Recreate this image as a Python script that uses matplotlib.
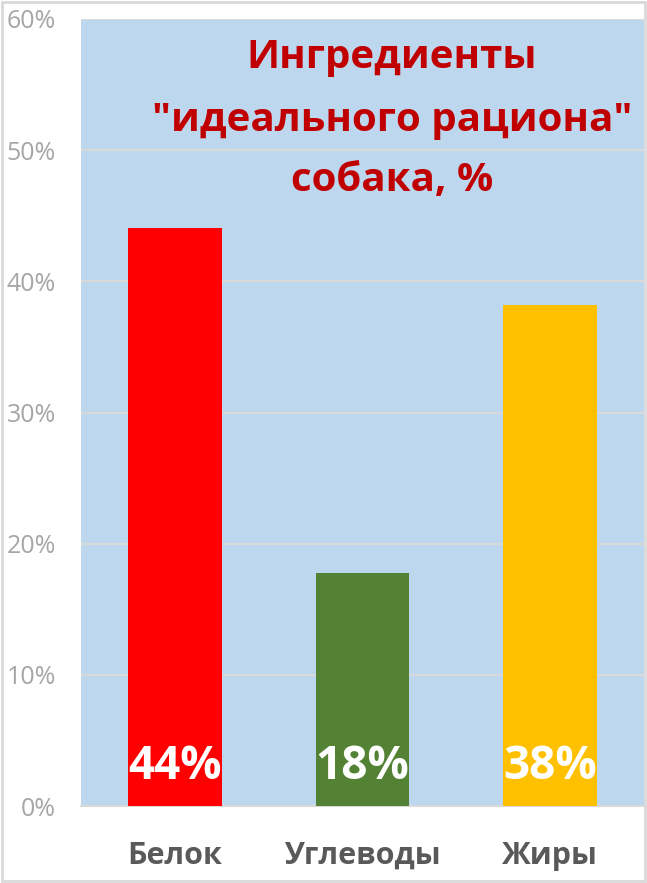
import matplotlib.pyplot as plt
from matplotlib.patches import Rectangle
from matplotlib.ticker import MultipleLocator, FuncFormatter

# данные диаграммы
categories = ['Белок', 'Углеводы', 'Жиры']
values = [44.1, 17.8, 38.2]
value_labels = ['44%', '18%', '38%']
bar_colors = ['#FF0000', '#548235', '#FFC000']
title_lines = ['Ингредиенты', '"идеального рациона"', 'собака, %']

plt.rcParams['font.family'] = ['Open Sans', 'DejaVu Sans']

W, H = 647, 883
fig = plt.figure(figsize=(W / 100, H / 100), dpi=100)
ax = fig.add_axes([81 / W, 1 - 806 / H, 563 / W, 787 / H])
ax.set_facecolor('#BDD7EE')

x = list(range(len(categories)))
bars = ax.bar(x, values, width=0.5, color=bar_colors, zorder=3)

ax.set_xlim(-0.5, len(categories) - 0.5)
ax.set_ylim(0, 60)
ax.yaxis.set_major_locator(MultipleLocator(10))
ax.yaxis.set_major_formatter(FuncFormatter(lambda v, p: f'{v:.0f}%'))
ax.grid(axis='y', color='#D9D9D9', linewidth=1.5, zorder=1)

for s in ['top', 'right', 'left']:
    ax.spines[s].set_visible(False)
ax.spines['bottom'].set_color('#D9D9D9')
ax.spines['bottom'].set_linewidth(1.5)

ax.set_xticks(x)
ax.set_xticklabels(categories, fontsize=22, fontweight='bold', color='#595959')
ax.tick_params(axis='x', length=0, pad=25)
ax.tick_params(axis='y', length=0, pad=18, labelsize=18, labelcolor='#A6A6A6')

# подписи значений внизу столбцов
for xi, lab in zip(x, value_labels):
    ax.text(xi, 3.0, lab, ha='center', va='center', fontsize=33,
            fontweight='bold', color='white', zorder=4)

# заголовок внутри области графика
title_y = [57.5, 120, 180]
for line, ty in zip(title_lines, title_y):
    fig.text(392 / W, 1 - ty / H, line, ha='center', va='center',
             fontsize=29, fontweight='bold', color='#C00000')

# рамка вокруг всей картинки
fig.patches.append(Rectangle((2 / W, 2 / H), 1 - 4 / W, 1 - 4 / H,
                             transform=fig.transFigure, fill=False,
                             edgecolor='#D9D9D9', linewidth=2))

fig.savefig('out.png', dpi=100)
